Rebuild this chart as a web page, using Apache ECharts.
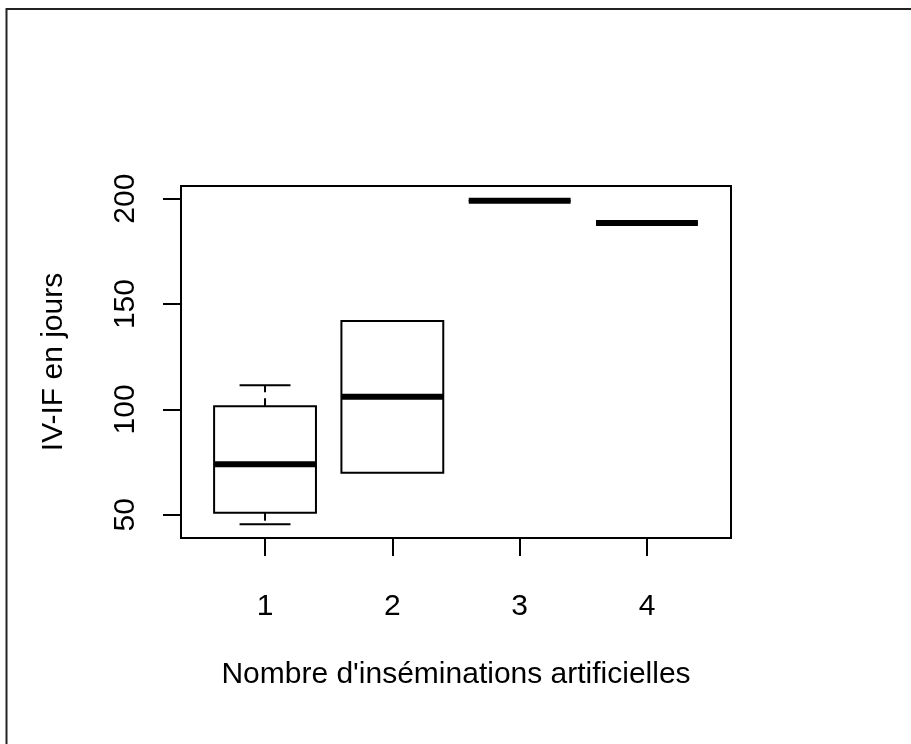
<!DOCTYPE html>
<html>
<head>
<meta charset="utf-8">
<script src="https://cdn.jsdelivr.net/npm/echarts@6/dist/echarts.min.js"></script>
<style>
html,body{margin:0;padding:0;background:#fff;}
#chart{width:911px;height:744px;}
</style>
</head>
<body>
<div id="chart"></div>
<script>
// ---- data ----
const categories = [1, 2, 3, 4];
const lowWhisker = [45.5, 70, 199, 188.5];
const q1Values = [51, 70, 199, 188.5];
const medianValues = [74, 106, 199, 188.5];
const q3Values = [101.5, 142, 199, 188.5];
const highWhisker = [111.5, 142, 199, 188.5];
const xTickLabels = [1, 2, 3, 4];
const yTickLabels = [50, 100, 150, 200];
const xTitle = "Nombre d'inséminations artificielles";
const yTitle = "IV-IF en jours";

const FONT = '"Liberation Sans", Arial, sans-serif';
const boxData = categories.map((c, i) => [c, lowWhisker[i], q1Values[i], medianValues[i], q3Values[i], highWhisker[i]]);

const chart = echarts.init(document.getElementById('chart'), null, {renderer: 'canvas'});

function renderBox(params, api) {
  const x = api.value(0), lo = api.value(1), q1 = api.value(2), md = api.value(3), q3 = api.value(4), hi = api.value(5);
  const half = 0.4, capHalf = 0.2;
  const tl = api.coord([x - half, q3]);
  const br = api.coord([x + half, q1]);
  const children = [];
  children.push({type: 'rect', shape: {x: tl[0], y: tl[1], width: br[0] - tl[0], height: br[1] - tl[1]},
    style: {fill: 'none', stroke: '#000', lineWidth: 2}});
  const mL = api.coord([x - half, md]), mR = api.coord([x + half, md]);
  children.push({type: 'line', shape: {x1: mL[0], y1: mL[1], x2: mR[0], y2: mR[1]},
    style: {stroke: '#000', lineWidth: 6}});
  if (hi > q3) {
    const a = api.coord([x, q3]), b = api.coord([x, hi]);
    children.push({type: 'line', shape: {x1: a[0], y1: a[1], x2: b[0], y2: b[1]},
      style: {stroke: '#000', lineWidth: 2, lineDash: [8, 6]}});
    const cl = api.coord([x - capHalf, hi]), cr = api.coord([x + capHalf, hi]);
    children.push({type: 'line', shape: {x1: cl[0], y1: cl[1], x2: cr[0], y2: cr[1]},
      style: {stroke: '#000', lineWidth: 2}});
  }
  if (lo < q1) {
    const a = api.coord([x, q1]), b = api.coord([x, lo]);
    children.push({type: 'line', shape: {x1: a[0], y1: a[1], x2: b[0], y2: b[1]},
      style: {stroke: '#000', lineWidth: 2, lineDash: [8, 6]}});
    const cl = api.coord([x - capHalf, lo]), cr = api.coord([x + capHalf, lo]);
    children.push({type: 'line', shape: {x1: cl[0], y1: cl[1], x2: cr[0], y2: cr[1]},
      style: {stroke: '#000', lineWidth: 2}});
  }
  return {type: 'group', children: children};
}

chart.setOption({
  backgroundColor: '#fff',
  animation: false,
  grid: {left: 181, right: 180, top: 186, bottom: 206, show: true, borderColor: '#000', borderWidth: 2, backgroundColor: 'transparent'},
  xAxis: {
    type: 'value', min: 0.34, max: 4.66,
    name: xTitle, nameLocation: 'middle', nameGap: 122,
    nameTextStyle: {fontFamily: FONT, fontSize: 30, color: '#000'},
    axisLine: {show: true, onZero: false, lineStyle: {color: '#000', width: 2}},
    axisTick: {show: true, length: 18, customValues: xTickLabels, lineStyle: {color: '#000', width: 2}},
    axisLabel: {customValues: xTickLabels, margin: 54, fontFamily: FONT, fontSize: 30, color: '#000'},
    splitLine: {show: false}
  },
  yAxis: {
    type: 'value', min: 39, max: 206,
    name: yTitle, nameLocation: 'middle', nameGap: 112, nameRotate: 90,
    nameTextStyle: {fontFamily: FONT, fontSize: 30, color: '#000'},
    axisLine: {show: true, onZero: false, lineStyle: {color: '#000', width: 2}},
    axisTick: {show: true, length: 18, customValues: yTickLabels, lineStyle: {color: '#000', width: 2}},
    axisLabel: {customValues: yTickLabels, rotate: 90, margin: 40, fontFamily: FONT, fontSize: 30, color: '#000'},
    splitLine: {show: false}
  },
  graphic: [
    {type: 'line', shape: {x1: 6.5, y1: 9, x2: 911, y2: 9}, style: {stroke: '#222', lineWidth: 2}},
    {type: 'line', shape: {x1: 6.5, y1: 8, x2: 6.5, y2: 744}, style: {stroke: '#222', lineWidth: 2}}
  ],
  series: [{
    type: 'custom',
    renderItem: renderBox,
    clip: false,
    encode: {x: 0, y: [1, 2, 3, 4, 5]},
    data: boxData
  }]
});
</script>
</body>
</html>
